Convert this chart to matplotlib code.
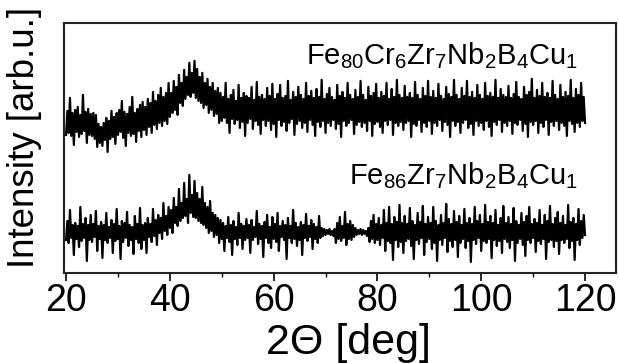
import numpy as np
import matplotlib
matplotlib.use("Agg")
import matplotlib.pyplot as plt
from matplotlib.ticker import MultipleLocator

plt.rcParams['font.family'] = ['Liberation Sans', 'DejaVu Sans']
plt.rcParams['mathtext.default'] = 'regular'

# Fe80Cr6Zr7Nb2B4Cu1 intensity (arb. units), 20..120 deg, step 0.25 deg
top_series = [
138,162,140,175,137,160,128,163,141,166,136,158,139,178,142,161,130,164,138,159,
137,160,134,158,126,149,130,146,127,150,133,155,121,152,134,162,136,156,129,160,
138,163,141,172,135,161,127,159,140,166,137,176,139,160,131,164,142,168,136,171,
143,166,138,174,146,170,140,181,148,172,144,178,150,185,147,176,152,180,149,190,
156,180,160,192,163,186,158,198,170,190,167,203,174,196,178,210,176,200,180,212,
175,204,172,196,170,200,165,190,168,194,160,186,163,190,157,182,159,185,150,180,
152,176,155,190,150,174,140,178,154,183,149,172,153,188,145,175,151,180,137,177,
150,175,154,186,144,173,152,191,148,176,139,178,153,174,147,185,152,177,143,189,
149,174,136,179,153,188,147,175,151,177,142,192,150,173,154,181,138,176,149,186,
152,178,145,174,150,190,141,177,153,182,148,175,137,184,151,176,146,193,152,174,
140,179,150,185,147,176,153,173,144,188,149,177,136,181,152,175,147,190,150,178,
153,174,139,183,148,176,151,192,146,178,150,173,142,186,152,177,137,180,149,189,
151,175,146,181,140,177,152,190,148,174,153,184,138,176,150,193,147,178,151,175,
143,187,150,176,152,180,136,175,149,191,147,178,153,174,141,185,150,177,146,192,
152,176,139,182,150,175,147,189,153,177,142,174,151,186,148,179,136,176,152,193,
147,178,151,174,140,185,150,177,153,192,145,176,149,181,138,175,152,188,147,178,
150,174,143,190,152,177,146,180,137,176,151,193,148,175,153,184,141,178,150,176,
147,187,152,175,139,179,150,191,148,176,153,174,142,186,149,178,136,181,151,194,
148,175,152,183,140,177,150,190,146,176,153,180,138,175,151,192,147,178,152,174,
143,188,150,176,147,181,137,177,152,193,149,175,141,184,150,178,146,190,152,176,
150]

# Fe86Zr7Nb2B4Cu1 intensity (arb. units), 20..120 deg, step 0.25 deg
bottom_series = [
33,52,30,63,35,48,18,50,34,47,26,66,32,49,35,55,12,48,33,58,
31,49,36,62,22,47,34,51,15,48,33,60,30,46,35,53,20,49,32,64,
34,47,14,52,31,50,35,61,27,48,33,46,19,57,34,49,30,65,24,48,
33,50,20,55,36,49,31,64,37,53,28,58,40,55,34,70,42,57,38,66,
45,63,40,75,50,66,47,84,52,70,55,90,57,74,50,98,60,78,56,92,
55,80,52,74,50,86,48,70,45,66,40,72,42,60,36,58,38,55,30,53,
34,50,22,47,35,56,31,48,18,52,34,46,28,60,35,49,24,47,33,54,
35,48,20,53,33,46,36,62,29,49,34,47,16,51,35,58,30,46,25,56,
34,49,31,60,22,47,36,52,33,48,14,55,35,47,30,63,34,50,27,46,
33,51,18,48,35,59,32,47,36,53,24,49,34,46,30,57,35,45,37,44,
38,43,39,44,38,42,37,44,30,50,34,56,32,47,35,61,28,49,34,52,
33,48,36,45,38,43,39,44,38,43,39,42,37,45,31,52,34,58,30,49,
33,55,28,48,35,63,22,50,32,66,30,49,13,56,33,51,26,68,31,50,
20,57,32,49,34,65,27,52,14,48,33,60,29,51,35,67,18,49,31,56,
34,50,24,66,30,52,12,48,33,58,28,50,35,69,21,54,32,49,26,62,
33,51,16,57,30,48,34,64,25,50,32,55,11,49,33,66,29,52,35,58,
22,49,32,68,30,51,34,57,15,50,33,63,27,48,32,55,20,67,34,50,
31,56,25,49,33,65,12,52,30,48,34,60,28,51,17,57,33,66,30,49,
35,54,21,50,32,63,29,48,34,58,14,52,31,67,33,49,26,55,32,61,
19,50,33,57,30,48,34,68,25,51,32,55,13,49,33,64,28,52,35,58,
38]

theta_top = np.linspace(20, 120, len(top_series))
theta_bot = np.linspace(20, 120, len(bottom_series))

label_top = r'Fe$_{80}$Cr$_{6}$Zr$_{7}$Nb$_{2}$B$_{4}$Cu$_{1}$'
label_bot = r'Fe$_{86}$Zr$_{7}$Nb$_{2}$B$_{4}$Cu$_{1}$'
xticks = [20, 40, 60, 80, 100, 120]

fig = plt.figure(figsize=(6.19, 3.63), dpi=100)
ax = fig.add_axes([0.1034, 0.248, 0.892, 0.689])

ax.plot(theta_top, top_series, color='black', lw=1.6)
ax.plot(theta_bot, bottom_series, color='black', lw=1.6)

ax.set_xlim(19.6, 126.0)
ax.set_ylim(0, 250)
ax.set_yticks([])
ax.set_xticks(xticks)
ax.xaxis.set_minor_locator(MultipleLocator(10))
ax.tick_params(axis='x', which='major', labelsize=27, length=6, width=1.2, pad=1)
ax.tick_params(axis='x', which='minor', length=3, width=1.0)
for s in ax.spines.values():
    s.set_linewidth(1.5)
    s.set_color('#222222')

fig.text(348/619, 1 - 343/363, '2Θ [deg]', fontsize=31, ha='center', va='center')
fig.text(25/619, 1 - 137/363, 'Intensity [arb.u.]', fontsize=26.5,
         ha='center', va='center', rotation=90)

ax.text(0.931, 0.836, label_top, transform=ax.transAxes, ha='right', va='baseline', fontsize=21)
ax.text(0.931, 0.356, label_bot, transform=ax.transAxes, ha='right', va='baseline', fontsize=21)

fig.savefig('out.png', dpi=100)
